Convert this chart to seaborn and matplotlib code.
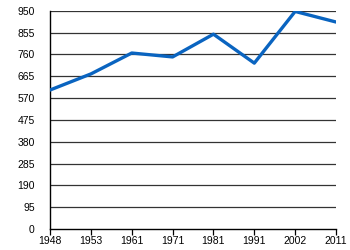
import matplotlib
matplotlib.use("Agg")
import matplotlib.pyplot as plt
import seaborn as sns
import pandas as pd

years = ["1948", "1953", "1961", "1971", "1981", "1991", "2002", "2011"]
values = [605, 675, 766, 749, 848, 722, 947, 901]
yticks = [0, 95, 190, 285, 380, 475, 570, 665, 760, 855, 950]

sns.set_theme(style="white")
plt.rcParams["font.family"] = ["Liberation Sans", "DejaVu Sans"]

df = pd.DataFrame({"year": years, "value": values})

fig = plt.figure(figsize=(3.5, 2.5), dpi=100)
ax = fig.add_axes([0.143, 0.084, 0.817, 0.873])
sns.lineplot(data=df, x="year", y="value", ax=ax, color="#0a64c0", linewidth=2.4,
             sort=False, zorder=3)

ax.set_xlim(0, len(years) - 1)
ax.set_ylim(0, 950)
ax.set_yticks(yticks)
ax.set_yticklabels([str(t) for t in yticks], fontsize=7.5)
ax.set_xticks(range(len(years)))
ax.set_xticklabels(years, fontsize=7.5)
for t in yticks[1:]:
    ax.axhline(t, color="#333333", linewidth=0.9, zorder=1)
ax.set_xlabel("")
ax.set_ylabel("")
for s in ["top", "right"]:
    ax.spines[s].set_visible(False)
for s in ["left", "bottom"]:
    ax.spines[s].set_color("black")
    ax.spines[s].set_linewidth(1.0)
ax.tick_params(axis="x", bottom=True, length=4, width=0.9, color="black", pad=1, labelcolor="black")
ax.tick_params(axis="y", left=False, pad=5, labelcolor="black")
ax.set_facecolor("white")
fig.patch.set_facecolor("white")
fig.savefig("out.png", dpi=100)
